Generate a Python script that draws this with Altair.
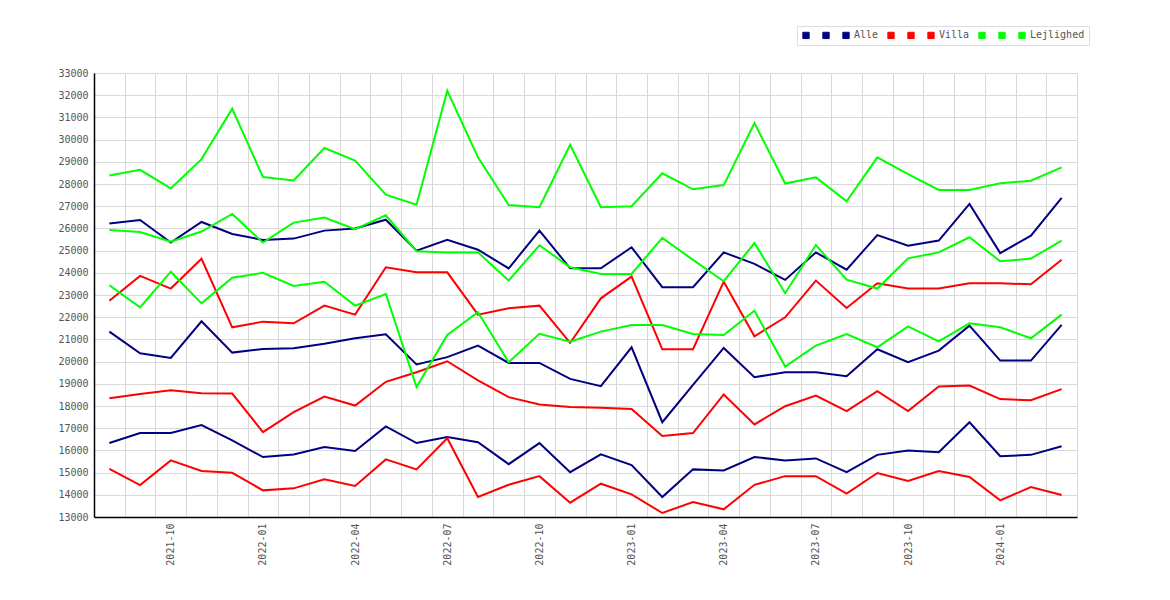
import pandas as pd
import altair as alt

# Months on the x axis (one point per month)
months = [str(p) for p in pd.period_range('2021-08', '2024-03', freq='M')]

# Alle (navy): low / mid / high
alle_low = [16330, 16780, 16780, 17140, 16450, 15700, 15820, 16150,
            15970, 17080, 16330, 16600, 16370, 15380, 16330, 15020,
            15820, 15340, 13900, 15145, 15100, 15700, 15550, 15640,
            15020, 15800, 16000, 15920, 17270, 15740, 15800, 16190]
alle_mid = [21350, 20375, 20165, 21815, 20405, 20570, 20600, 20800,
            21050, 21230, 19870, 20200, 20720, 19940, 19940, 19220,
            18890, 20645, 17270, 18950, 20615, 19300, 19520, 19520,
            19340, 20555, 19970, 20495, 21620, 20045, 20045, 21650]
alle_high = [26220, 26380, 25360, 26290, 25750, 25480, 25540, 25900,
             26000, 26390, 25000, 25490, 25040, 24200, 25900, 24200,
             24200, 25150, 23350, 23350, 24920, 24400, 23680, 24920,
             24140, 25700, 25220, 25450, 27100, 24890, 25670, 27370]

# Villa (red)
villa_low = [15170, 14440, 15550, 15070, 14990, 14200, 14290, 14700,
             14395, 15595, 15145, 16550, 13900, 14450, 14840, 13645,
             14500, 14020, 13180, 13675, 13345, 14450, 14840, 14840,
             14050, 14980, 14620, 15070, 14800, 13750, 14350, 13990]
villa_mid = [18350, 18545, 18710, 18575, 18560, 16825, 17720, 18425,
             18020, 19090, 19520, 20015, 19150, 18400, 18070, 17950,
             17920, 17860, 16645, 16780, 18520, 17170, 17990, 18470,
             17770, 18670, 17770, 18880, 18920, 18310, 18260, 18760]
villa_high = [22745, 23860, 23290, 24630, 21545, 21800, 21725, 22520,
              22115, 24250, 24020, 24020, 22115, 22400, 22520, 20840,
              22850, 23830, 20555, 20555, 23600, 21140, 21995, 23650,
              22415, 23530, 23290, 23290, 23530, 23530, 23480, 24590]

# Lejlighed (green)
lejl_low = [23440, 22445, 24050, 22625, 23780, 24000, 23410, 23600,
            22520, 23045, 18850, 21200, 22220, 19970, 21250, 20900,
            21350, 21650, 21650, 21245, 21200, 22295, 19775, 20720,
            21245, 20645, 21590, 20915, 21725, 21545, 21050, 22115]
lejl_mid = [25930, 25840, 25400, 25860, 26650, 25360, 26260, 26490,
            25970, 26590, 24970, 24920, 24920, 23650, 25240, 24250,
            23950, 23950, 25570, 24580, 23620, 25340, 23080, 25250,
            23690, 23290, 24650, 24920, 25600, 24520, 24640, 25450]
lejl_high = [28380, 28640, 27800, 29120, 31390, 28310, 28160, 29620,
             29050, 27520, 27070, 32200, 29200, 27050, 26950, 29770,
             26950, 27000, 28480, 27760, 27950, 30750, 28020, 28300,
             27220, 29200, 28450, 27730, 27730, 28030, 28150, 28750]

series = [
    ('Alle_lo', alle_low), ('Alle_mid', alle_mid), ('Alle', alle_high),
    ('Villa_lo', villa_low), ('Villa_mid', villa_mid), ('Villa', villa_high),
    ('Lejlighed_lo', lejl_low), ('Lejlighed_mid', lejl_mid), ('Lejlighed', lejl_high),
]
order = [name for name, _ in series]
colors = ['#000080'] * 3 + ['#ff0000'] * 3 + ['#00ff00'] * 3

rows = []
for name, vals in series:
    for m, v in zip(months, vals):
        rows.append({'month': m, 'price': v, 'series': name})
df = pd.DataFrame(rows)

W, H = 983, 444
step = W / len(months)

x = alt.X('month:O', title=None, sort=months,
          scale=alt.Scale(type='point', padding=0.5),
          axis=alt.Axis(values=months, grid=True, ticks=False,
                        tickOffset=step / 2, labelOffset=-step / 2,
                        labelAngle=-90, labelPadding=6,
                        labelExpr="indexof(['01','04','07','10'], substring(datum.value, 5, 7)) >= 0 ? datum.value : ''"))
y = alt.Y('price:Q', title=None,
          scale=alt.Scale(domain=[13000, 33000], nice=False, zero=False),
          axis=alt.Axis(values=list(range(13000, 33001, 1000)), format='d',
                        ticks=False, labelPadding=6, grid=True))
color_scale = alt.Scale(domain=order, range=colors)

lines = alt.Chart(df).mark_line(strokeWidth=2).encode(
    x=x, y=y,
    color=alt.Color('series:N', scale=color_scale, legend=None),
)

# invisible squares only to drive the legend
legend_pts = alt.Chart(df).mark_square(opacity=0).encode(
    x=x, y=y,
    color=alt.Color('series:N', scale=color_scale, legend=alt.Legend(
        title=None, orient='none', legendX=703, legendY=-47,
        direction='horizontal', symbolType='square', symbolSize=40,
        symbolOpacity=1, symbolStrokeColor='#555', symbolStrokeWidth=1,
        labelFont='DejaVu Sans Mono', labelFontSize=10, labelColor='#555',
        labelOffset=3, columnPadding=6, padding=4, strokeColor='#ddd',
        labelExpr="indexof(datum.value, '_') >= 0 ? ' ' : datum.value")),
)

chart = alt.layer(legend_pts, lines).properties(
    width=W, height=H,
    autosize=alt.AutoSizeParams(type='none'),
    padding={'left': 86, 'top': 65, 'right': 80, 'bottom': 70},
).configure_axis(
    labelFont='DejaVu Sans Mono', labelFontSize=10, labelColor='#555',
    gridColor='#d9d9d9', domainColor='#000', domainWidth=1.5,
).configure_view(strokeWidth=0)

chart.save("out.html", embed_options={"renderer": "svg", "actions": False})
